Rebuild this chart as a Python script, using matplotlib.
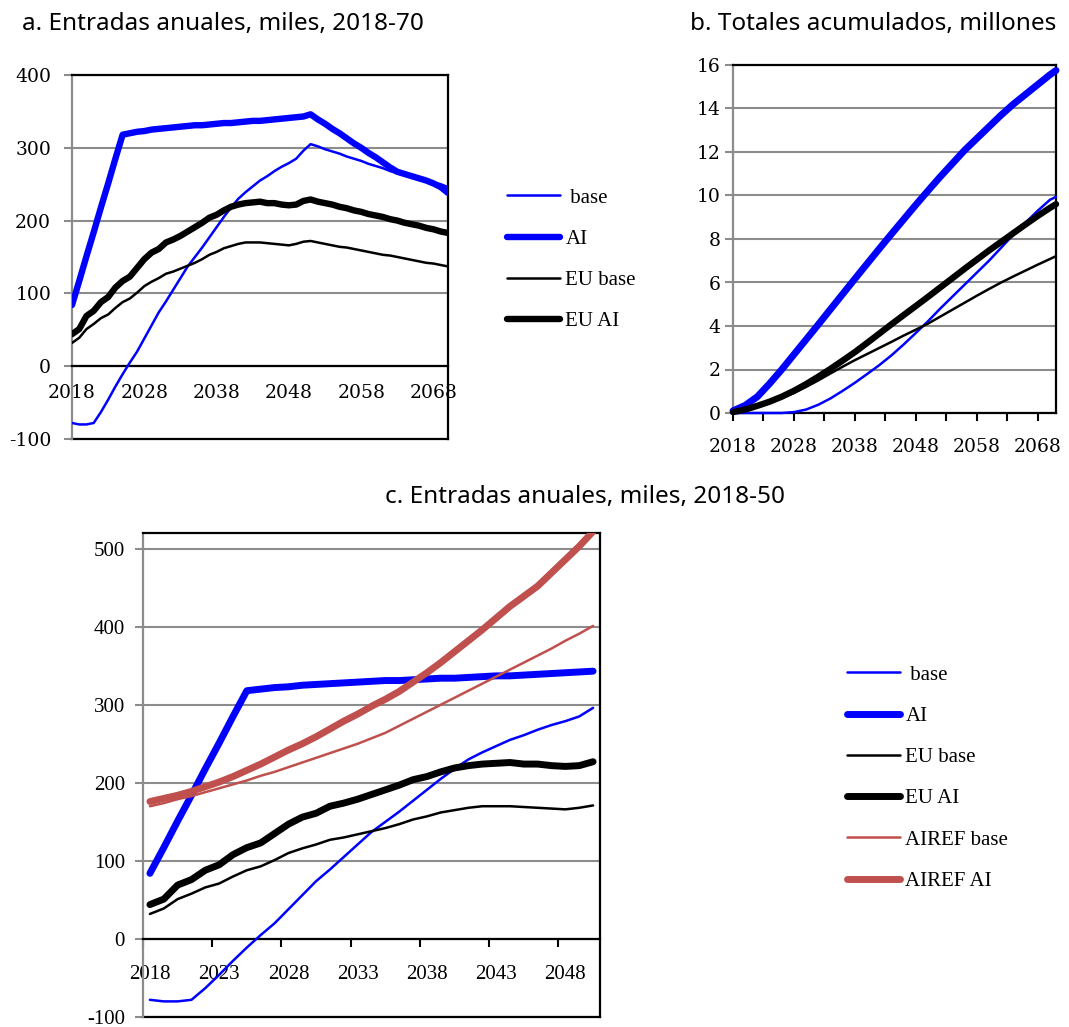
import numpy as np
import matplotlib
matplotlib.use('Agg')
import matplotlib.pyplot as plt

plt.rcParams['font.family'] = ['DejaVu Serif']
plt.rcParams['axes.unicode_minus'] = False

# ---- annual inflows, thousands (2018-2070) ----
years = np.arange(2018, 2071)

base = [-78, -80, -80, -78, -63, -46, -28, -11, 5, 20,
        38, 56, 74, 89, 105, 121, 137, 150, 163, 177,
        191, 205, 218, 230, 239, 247, 255, 261, 268, 274,
        279, 285, 296, 305, 302, 298, 295, 292, 288, 285,
        282, 278, 275, 272, 268, 265, 263, 261, 258, 255,
        252, 250, 246]
ai = [84, 117, 151, 184, 218, 251, 285, 318, 320, 322,
      323, 325, 326, 327, 328, 329, 330, 331, 331, 332,
      333, 334, 334, 335, 336, 337, 337, 338, 339, 340,
      341, 342, 343, 346, 339, 333, 326, 320, 313, 306,
      300, 293, 287, 280, 273, 267, 264, 261, 258, 255,
      251, 246, 238]
eu_base = [32, 39, 51, 58, 66, 71, 80, 88, 93, 101,
           110, 116, 121, 127, 130, 134, 138, 142, 147, 153,
           157, 162, 165, 168, 170, 170, 170, 169, 168, 167,
           166, 168, 171, 172, 170, 168, 166, 164, 163, 161,
           159, 157, 155, 153, 152, 150, 148, 146, 144, 142,
           141, 139, 137]
eu_ai = [44, 51, 69, 76, 88, 95, 108, 117, 123, 135,
         147, 156, 161, 170, 174, 179, 185, 191, 197, 204,
         208, 214, 219, 222, 224, 225, 226, 224, 224, 222,
         221, 222, 227, 229, 226, 224, 222, 219, 217, 214,
         212, 209, 207, 205, 202, 200, 197, 195, 193, 190,
         188, 185, 183]

# AIReF scenarios, 2018-2050
years_c = np.arange(2018, 2051)
airef_base = [170, 174, 179, 183, 188, 193, 198, 203, 209, 214,
              220, 226, 232, 238, 244, 250, 257, 264, 273, 282,
              291, 300, 309, 318, 327, 336, 345, 354, 363, 372,
              382, 391, 401]
airef_ai = [176, 180, 184, 189, 195, 201, 208, 216, 224, 233,
            242, 250, 259, 269, 279, 288, 298, 307, 317, 329,
            341, 354, 368, 382, 396, 411, 426, 439, 452, 469,
            486, 503, 522]

# ---- cumulative totals, millions ----
years_b = [2018, 2020, 2022, 2024, 2026, 2028, 2030, 2032, 2034, 2036,
           2038, 2040, 2042, 2044, 2046, 2048, 2050, 2052, 2054, 2056,
           2058, 2060, 2062, 2064, 2066, 2068, 2070, 2071]
cum_base = [0, 0, 0, 0, 0, 0.04, 0.16, 0.38, 0.67, 1.02,
            1.39, 1.79, 2.2, 2.65, 3.15, 3.68, 4.22, 4.8, 5.35, 5.9,
            6.45, 7.0, 7.6, 8.2, 8.75, 9.3, 9.8, 9.94]
cum_ai = [0.1, 0.35, 0.75, 1.35, 2.0, 2.69, 3.38, 4.07, 4.77, 5.47,
          6.17, 6.86, 7.55, 8.23, 8.9, 9.57, 10.22, 10.86, 11.47, 12.08,
          12.62, 13.16, 13.7, 14.2, 14.65, 15.1, 15.55, 15.75]
cum_eu_base = [0.03, 0.13, 0.28, 0.48, 0.7, 0.92, 1.2, 1.5, 1.82, 2.13,
               2.43, 2.71, 2.99, 3.27, 3.56, 3.83, 4.11, 4.43, 4.75, 5.07,
               5.39, 5.7, 6.0, 6.28, 6.55, 6.82, 7.08, 7.21]
cum_eu_ai = [0.04, 0.16, 0.33, 0.52, 0.75, 1.02, 1.33, 1.67, 2.03, 2.41,
             2.8, 3.22, 3.65, 4.08, 4.5, 4.92, 5.34, 5.77, 6.2, 6.63,
             7.05, 7.47, 7.87, 8.27, 8.67, 9.06, 9.43, 9.6]

labels = [' base', 'AI', 'EU base', 'EU AI', 'AIREF base', 'AIREF AI']

BLUE = '#0000ff'
RED = '#c0504d'
GRID = '#8c8c8c'
THIN, THICK = 1.8, 5.0

W, H = 1069, 1027
fig = plt.figure(figsize=(W / 100, H / 100), dpi=100)


def add_ax(left, top, right, bottom):
    return fig.add_axes([left / W, 1 - bottom / H, (right - left) / W, (bottom - top) / H])


def style(ax, zero_axis):
    for s in ['top', 'right', 'bottom']:
        ax.spines[s].set_color('black')
        ax.spines[s].set_linewidth(1.6)
    ax.spines['left'].set_color(GRID)
    ax.spines['left'].set_linewidth(1.6)
    ax.grid(axis='y', color=GRID, lw=1.5)
    ax.set_axisbelow(True)
    ax.tick_params(axis='y', which='both', color=GRID, labelcolor='black', length=6, width=1.5)
    ax.tick_params(axis='x', which='both', color='black', width=1.5, direction='out')
    if zero_axis:
        # category axis crosses at zero, frame still closed at the bottom
        ax.spines['bottom'].set_position(('data', 0))
        ax.plot([0, 1], [0, 0], transform=ax.transAxes, color='black', lw=1.6, clip_on=False)


def set_tick_font(ax, family, size, minor=False):
    for lab in ax.get_xticklabels(minor=minor) + ax.get_yticklabels():
        lab.set_fontfamily(family)
        lab.set_fontsize(size)


def draw(ax, x, y, color, lw, label=None, clip=True):
    ax.plot(x, y, color=color, lw=lw, label=label, solid_capstyle='round',
            solid_joinstyle='round', zorder=3, clip_on=clip)


# ---------------- a ----------------
ax_a = add_ax(72, 75, 448, 439)
style(ax_a, True)
draw(ax_a, years, base, BLUE, THIN, labels[0])
draw(ax_a, years, ai, BLUE, THICK - 0.4, labels[1])
draw(ax_a, years, eu_base, 'black', THIN, labels[2])
draw(ax_a, years, eu_ai, 'black', THICK - 0.4, labels[3])
ax_a.set_xlim(2018, 2070)
ax_a.set_ylim(-100, 400)
ax_a.set_yticks(range(-100, 401, 100))
ax_a.set_xticks(range(2018, 2069, 10))
ax_a.set_xticks([2018, 2068], minor=True)
ax_a.tick_params(axis='x', which='major', length=0, pad=13)
ax_a.tick_params(axis='x', which='minor', length=6)
ax_a.tick_params(axis='y', pad=9)
set_tick_font(ax_a, 'DejaVu Serif', 13.5)

# ---------------- b ----------------
ax_b = add_ax(733, 65, 1056, 413)
style(ax_b, False)
draw(ax_b, years_b, cum_base, BLUE, THIN, clip=False)
draw(ax_b, years_b, cum_ai, BLUE, THICK, clip=False)
draw(ax_b, years_b, cum_eu_base, 'black', THIN, clip=False)
draw(ax_b, years_b, cum_eu_ai, 'black', THICK - 0.4, clip=False)
ax_b.set_xlim(2018, 2071)
ax_b.set_ylim(0, 16)
ax_b.set_yticks(range(0, 17, 2))
ax_b.set_xticks(range(2018, 2069, 10))
ax_b.set_xticks(range(2023, 2069, 10), minor=True)
ax_b.tick_params(axis='x', which='both', length=6, pad=12)
ax_b.tick_params(axis='y', pad=3)
set_tick_font(ax_b, 'DejaVu Serif', 13.5)

# ---------------- c ----------------
ax_c = add_ax(143, 533, 600, 1017)
style(ax_c, True)
draw(ax_c, years_c, base[:33], BLUE, THIN, labels[0])
draw(ax_c, years_c, ai[:33], BLUE, THICK, labels[1])
draw(ax_c, years_c, eu_base[:33], 'black', THIN, labels[2])
draw(ax_c, years_c, eu_ai[:33], 'black', THICK, labels[3])
draw(ax_c, years_c, airef_base, RED, THIN, labels[4])
draw(ax_c, years_c, airef_ai, RED, THICK, labels[5])
ax_c.set_xlim(2017.5, 2050.5)
ax_c.set_ylim(-100, 520)
ax_c.set_yticks(range(-100, 501, 100))
ax_c.set_xticks(np.arange(2017.5, 2048, 5))
ax_c.set_xticklabels([])
ax_c.set_xticks(range(2018, 2049, 5), minor=True)
ax_c.set_xticklabels([str(y) for y in range(2018, 2049, 5)], minor=True)
ax_c.tick_params(axis='x', which='major', length=6)
ax_c.tick_params(axis='x', which='minor', length=0, pad=19)
ax_c.tick_params(axis='y', pad=7)
set_tick_font(ax_c, 'Liberation Serif', 15, minor=True)

# ---------------- legends ----------------
leg_kw = dict(frameon=False, loc='upper left', borderpad=0, borderaxespad=0,
              handlelength=2.55, handletextpad=0.25, labelspacing=1.04,
              prop={'family': 'Liberation Serif', 'size': 15})
h, l = ax_a.get_legend_handles_labels()
fig.legend(h, l, bbox_to_anchor=(507 / W, 1 - 188 / H), **leg_kw)
h, l = ax_c.get_legend_handles_labels()
fig.legend(h, l, bbox_to_anchor=(847 / W, 1 - 665 / H), **leg_kw)

# ---------------- titles ----------------
title_kw = dict(fontfamily='Noto Sans', fontsize=17.5, fontweight=500, va='baseline')
fig.text(22 / W, 1 - 30 / H, 'a. Entradas anuales, miles, 2018-70', **title_kw)
fig.text(690 / W, 1 - 30 / H, 'b. Totales acumulados, millones', **title_kw)
fig.text(385 / W, 1 - 503 / H, 'c. Entradas anuales, miles, 2018-50', **title_kw)

fig.savefig('out.png', dpi=100)
